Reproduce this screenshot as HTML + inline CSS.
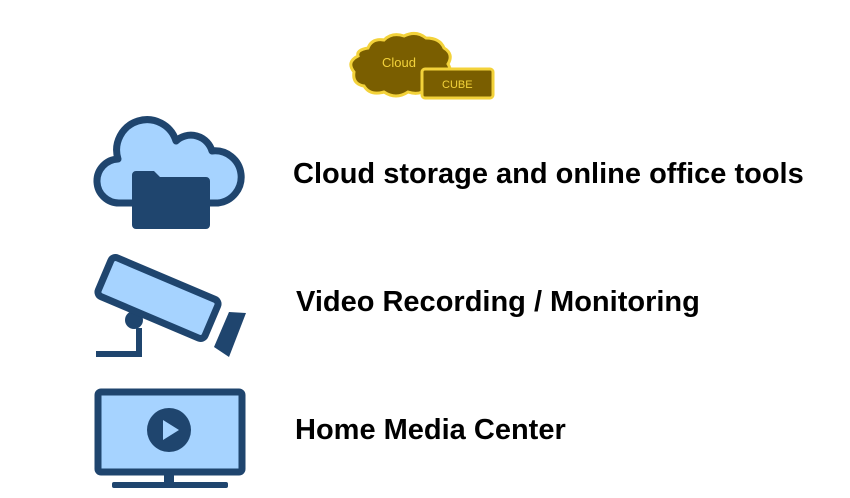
<!DOCTYPE html>
<html><head><style>
html,body{margin:0;padding:0;background:#fff;width:850px;height:498px;overflow:hidden}
.t{position:absolute;font-family:"Liberation Sans",sans-serif;font-weight:bold;font-size:29px;color:#000;white-space:nowrap}
</style></head><body>
<svg width="850" height="498" style="position:absolute;left:0;top:0">
<g>
<path d="M368,48 q4,-10 16,-8 q8,-8 20,-4 q12,-6 22,2 q14,0 18,10 q10,6 4,16 q6,10 -4,16 q-2,10 -16,8 q-8,8 -20,4 q-12,8 -24,0 q-14,4 -20,-6 q-12,-2 -10,-14 q-8,-10 4,-16 q-2,-6 10,-8z" fill="#7a5e00" stroke="#f3d23a" stroke-width="3"/>
<text x="382" y="67" font-family="Liberation Sans,sans-serif" font-size="13" fill="#f3d23a">Cloud</text>
<rect x="422" y="69" width="71" height="29" rx="3" fill="#7a5e00" stroke="#f3d23a" stroke-width="3"/>
<text x="442" y="88" font-family="Liberation Sans,sans-serif" font-size="11" fill="#f3d23a">CUBE</text>
</g>
<path d="M130,203 h-10 a22,22 0 0 1 -2,-44 a30,30 0 0 1 58,-18 a22,22 0 0 1 36,10 a26,26 0 0 1 6,52 z" fill="#a6d3ff" stroke="#1f456e" stroke-width="7" stroke-linejoin="round"/>
<path d="M132,175 a4,4 0 0 1 4,-4 h18 l6,6 h46 a4,4 0 0 1 4,4 v44 a4,4 0 0 1 -4,4 h-70 a4,4 0 0 1 -4,-4z" fill="#1f456e"/>
<circle cx="134" cy="320" r="9" fill="#1f456e"/>
<polyline points="139,328 139,354 96,354" fill="none" stroke="#1f456e" stroke-width="6"/>
<rect x="100" y="277" width="116" height="42" rx="5" transform="rotate(23 158 298)" fill="#a6d3ff" stroke="#1f456e" stroke-width="7"/>
<polygon points="229,312 246,313 229,357 214,347" fill="#1f456e"/>
<rect x="98" y="392" width="144" height="80" rx="3" fill="#a6d3ff" stroke="#1f456e" stroke-width="7"/>
<rect x="164" y="474" width="10" height="10" fill="#1f456e"/>
<rect x="112" y="482" width="116" height="6" rx="2" fill="#1f456e"/>
<circle cx="169" cy="430" r="22" fill="#1f456e"/>
<polygon points="163,420 163,440 179,430" fill="#a6d3ff"/>
</svg>
<div class="t" style="left:293px;top:158px">Cloud storage and online office tools</div>
<div class="t" style="left:296px;top:286px">Video Recording / Monitoring</div>
<div class="t" style="left:295px;top:414px">Home Media Center</div>
</body></html>
